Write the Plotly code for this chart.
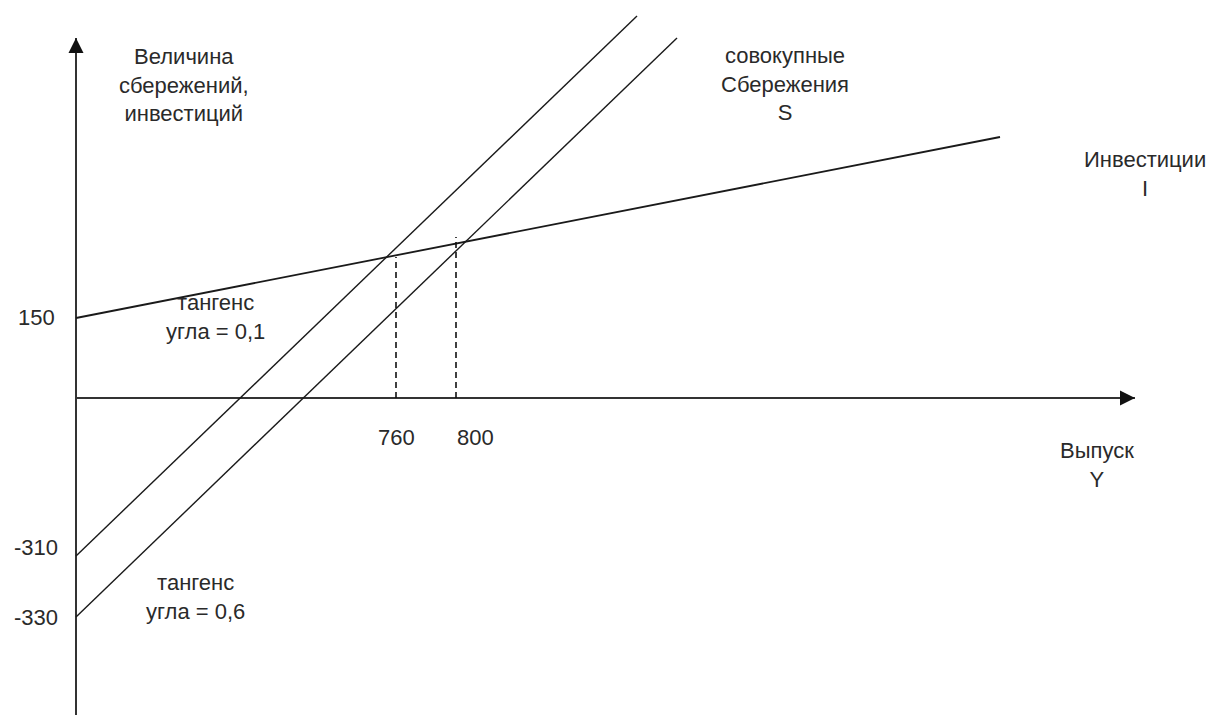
import plotly.graph_objects as go

# Schematic coordinates (origin at the axes crossing)
inv_x = [0, 924]
inv_y = [80, 261]
sav1_x = [0, 561]
sav1_y = [-158, 382]
sav2_x = [0, 601]
sav2_y = [-219, 360]
eq_x = [320, 380]
eq_y = [141, 161]

x_tick_text = ["760", "800"]
x_tick_pos = [320, 399]
y_tick_text = ["150", "-310", "-330"]
y_tick_pos = [81, -149, -219]

x_axis_end = 1059
y_axis_end = 360
y_axis_start = -330

labels = [
    ("Величина<br>сбережений,<br>инвестиций", 108, 313),
    ("совокупные<br>Сбережения<br>S", 709, 314),
    ("Инвестиции<br>I", 1069, 224),
    ("Выпуск<br>Y", 1021, -67),
    ("тангенс<br>угла = 0,1", 139, 81),
    ("тангенс<br>угла = 0,6", 119, -199),
]

FONT = "Liberation Sans, Arial, sans-serif"
TXT = "#2a2a2a"
AX = "#333333"

fig = go.Figure()

# axes
fig.add_trace(go.Scatter(x=[0, x_axis_end], y=[0, 0], mode="lines",
                         line=dict(color=AX, width=2), hoverinfo="skip"))
fig.add_trace(go.Scatter(x=[0, 0], y=[y_axis_start, y_axis_end], mode="lines",
                         line=dict(color=AX, width=2), hoverinfo="skip"))
fig.add_trace(go.Scatter(x=[x_axis_end], y=[0], mode="markers",
                         marker=dict(symbol="arrow-right", size=15, color="#111"),
                         hoverinfo="skip"))
fig.add_trace(go.Scatter(x=[0], y=[y_axis_end], mode="markers",
                         marker=dict(symbol="arrow-up", size=15, color="#111"),
                         hoverinfo="skip"))

# curves
fig.add_trace(go.Scatter(x=inv_x, y=inv_y, mode="lines",
                         line=dict(color="#1a1a1a", width=1.8), hoverinfo="skip"))
fig.add_trace(go.Scatter(x=sav1_x, y=sav1_y, mode="lines",
                         line=dict(color="#1a1a1a", width=1.4), hoverinfo="skip"))
fig.add_trace(go.Scatter(x=sav2_x, y=sav2_y, mode="lines",
                         line=dict(color="#1a1a1a", width=1.4), hoverinfo="skip"))

# dashed equilibrium drops
for xv, yv in zip(eq_x, eq_y):
    fig.add_trace(go.Scatter(x=[xv, xv], y=[0, yv], mode="lines",
                             line=dict(color="#111", width=1.6, dash="6px,4px"),
                             hoverinfo="skip"))

annotations = []
for t, xv in zip(x_tick_text, x_tick_pos):
    annotations.append(dict(x=xv, y=-39, text=t))
for t, yv in zip(y_tick_text, y_tick_pos):
    annotations.append(dict(x=-40, y=yv, text=t))
for t, xv, yv in labels:
    annotations.append(dict(x=xv, y=yv, text=t))

for a in annotations:
    a.update(xref="x", yref="y", showarrow=False, xanchor="center", yanchor="middle",
             align="center", font=dict(family=FONT, size=22, color=TXT))

# the page body has an 8px margin, so the data window is shifted by 8px
fig.update_layout(
    width=1219, height=715,
    margin=dict(l=0, r=0, t=0, b=0),
    paper_bgcolor="white", plot_bgcolor="white",
    showlegend=False,
    xaxis=dict(range=[-68, 1151], visible=False, fixedrange=True),
    yaxis=dict(range=[-325, 390], visible=False, fixedrange=True),
    annotations=annotations,
)

fig.write_html("out.html")
